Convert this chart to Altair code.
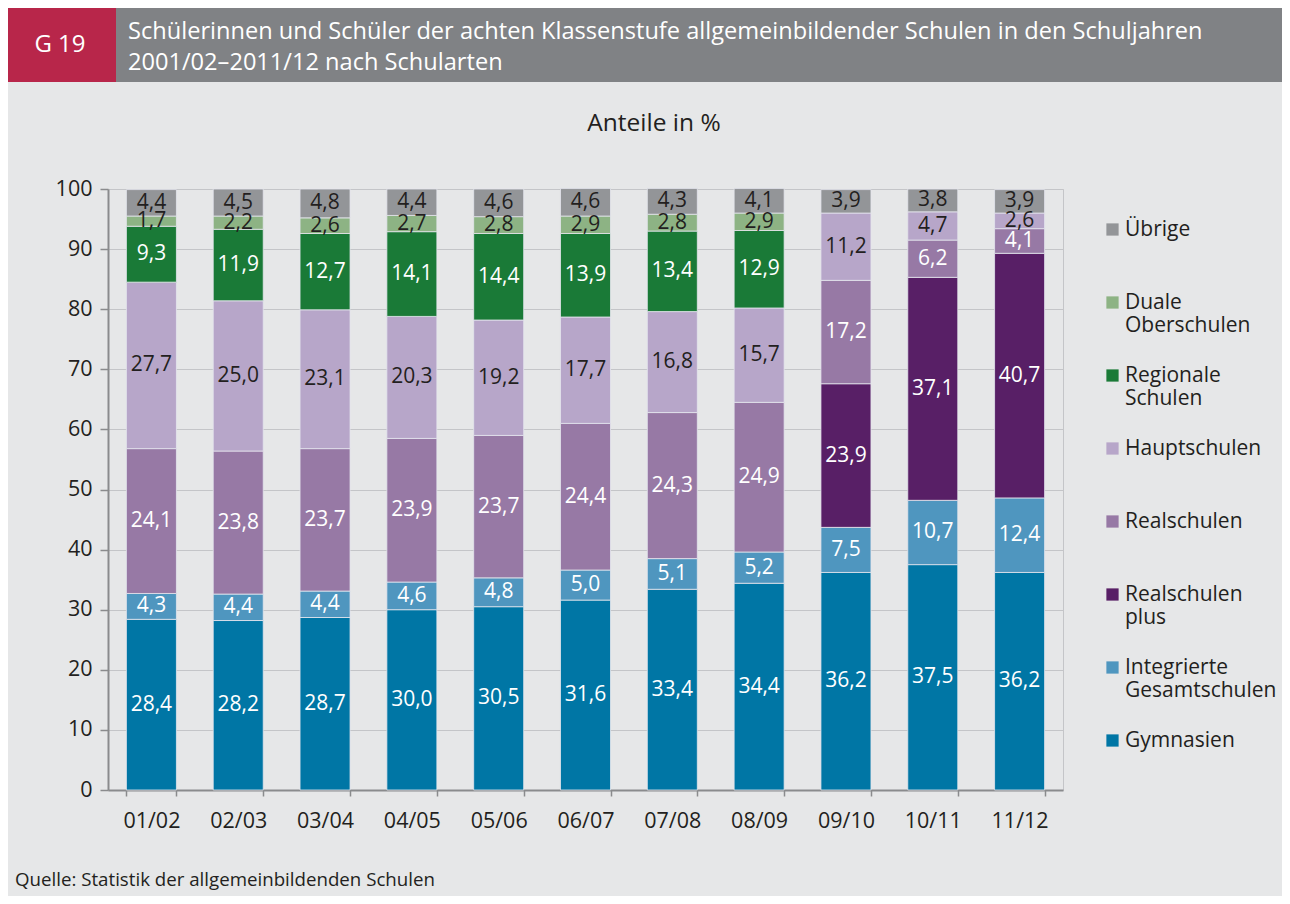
import altair as alt
import pandas as pd

FONT = "Open Sans"
DARK = "#231f20"

years = ["01/02", "02/03", "03/04", "04/05", "05/06", "06/07", "07/08", "08/09", "09/10", "10/11", "11/12"]

# stack order bottom -> top
gymnasien = [28.4, 28.2, 28.7, 30.0, 30.5, 31.6, 33.4, 34.4, 36.2, 37.5, 36.2]
integrierte = [4.3, 4.4, 4.4, 4.6, 4.8, 5.0, 5.1, 5.2, 7.5, 10.7, 12.4]
realschulen_plus = [0, 0, 0, 0, 0, 0, 0, 0, 23.9, 37.1, 40.7]
realschulen = [24.1, 23.8, 23.7, 23.9, 23.7, 24.4, 24.3, 24.9, 17.2, 6.2, 4.1]
hauptschulen = [27.7, 25.0, 23.1, 20.3, 19.2, 17.7, 16.8, 15.7, 11.2, 4.7, 2.6]
regionale = [9.3, 11.9, 12.7, 14.1, 14.4, 13.9, 13.4, 12.9, 0, 0, 0]
duale = [1.7, 2.2, 2.6, 2.7, 2.8, 2.9, 2.8, 2.9, 0, 0, 0]
uebrige = [4.4, 4.5, 4.8, 4.4, 4.6, 4.6, 4.3, 4.1, 3.9, 3.8, 3.9]

stack_names = ["Gymnasien", "Integrierte Gesamtschulen", "Realschulen plus", "Realschulen",
               "Hauptschulen", "Regionale Schulen", "Duale Oberschulen", "Übrige"]
stack_values = [gymnasien, integrierte, realschulen_plus, realschulen,
                hauptschulen, regionale, duale, uebrige]
label_colors = ["white", "white", "white", "white", DARK, "white", DARK, DARK]

legend_order = ["Übrige", "Duale Oberschulen", "Regionale Schulen", "Hauptschulen",
                "Realschulen", "Realschulen plus", "Integrierte Gesamtschulen", "Gymnasien"]
legend_colors = ["#939598", "#8db384", "#1a7a37", "#b7a6c9", "#9779a5", "#581f66", "#4f96bf", "#0076a5"]

rows = []
for i, (name, vals) in enumerate(zip(stack_names, stack_values)):
    for y, v in zip(years, vals):
        rows.append({"year": y, "series": name, "value": v, "order": i, "lc": label_colors[i]})
df = pd.DataFrame(rows)

header_title = ["Schülerinnen und Schüler der achten Klassenstufe allgemeinbildender Schulen in den Schuljahren",
                "2001/02–2011/12 nach Schularten"]
header_tag = "G 19"
chart_subtitle = "Anteile in %"
source_note = "Quelle: Statistik der allgemeinbildenden Schulen"

one = pd.DataFrame({"a": [0]})

header_bg = alt.Chart(one).mark_rect(color="#808285").encode(
    x=alt.value(-100), x2=alt.value(1174), y=alt.value(-181), y2=alt.value(-107))
header_red = alt.Chart(one).mark_rect(color="#b8264a").encode(
    x=alt.value(-100), x2=alt.value(8), y=alt.value(-181), y2=alt.value(-107))
header_tag_t = alt.Chart(one).mark_text(
    text=header_tag, font=FONT, fontSize=24, color="white", align="center", baseline="middle"
).encode(x=alt.value(-48), y=alt.value(-144))
header_title_t = alt.Chart(one).mark_text(
    text=header_title, font=FONT, fontSize=23.6, color="white", align="left", baseline="middle",
    lineHeight=31
).encode(x=alt.value(20), y=alt.value(-157))
sub_t = alt.Chart(one).mark_text(
    text=chart_subtitle, font=FONT, fontSize=24.5, color=DARK, align="center", baseline="middle"
).encode(x=alt.value(546), y=alt.value(-65))
src_t = alt.Chart(one).mark_text(
    text=source_note, font=FONT, fontSize=18.7, color=DARK, align="left", baseline="middle"
).encode(x=alt.value(-93), y=alt.value(691))

base = alt.Chart(df).transform_filter("datum.value > 0").transform_stack(
    stack="value", groupby=["year"], sort=[alt.SortField("order", order="ascending")], as_=["y0", "y1"]
).transform_calculate(
    mid="(datum.y0 + datum.y1) / 2",
    lab="replace(format(datum.value, '.1f'), '.', ',')"
)

xenc = alt.X("year:N", sort=years, title=None,
             scale=alt.Scale(paddingInner=0.424, paddingOuter=0.212),
             axis=alt.Axis(labelFont=FONT, labelFontSize=21.5, labelColor=DARK, labelAngle=0,
                           domainColor="#8a8b8d", domainWidth=2, tickColor="#8a8b8d", tickWidth=1.5,
                           tickSize=6, tickBand="extent", labelPadding=14, grid=False))

bars = base.mark_bar(stroke="#e4e6ee", strokeWidth=0.8).encode(
    x=xenc,
    y=alt.Y("y0:Q", title=None, scale=alt.Scale(domain=[0, 100], nice=False),
            axis=alt.Axis(values=list(range(0, 101, 10)), labelFont=FONT, labelFontSize=21.5,
                          labelColor=DARK, domainColor="#8a8b8d", domainWidth=2,
                          tickColor="#8a8b8d", tickWidth=1.5, tickSize=8, labelPadding=8,
                          gridColor="#c4c5c8", gridWidth=1)),
    y2="y1:Q",
    color=alt.Color("series:N", scale=alt.Scale(domain=legend_order, range=legend_colors),
                    legend=alt.Legend(title=None, orient="none", legendX=994, legendY=30,
                                      symbolType="square", symbolSize=150, symbolStrokeWidth=0,
                                      labelFont=FONT, labelFontSize=21, labelColor=DARK,
                                      labelExpr="split(datum.label, ' ')", gridAlign="all",
                                      rowPadding=28, labelOffset=2)),
)

labels = base.mark_text(font=FONT, fontSize=21, baseline="middle", align="center").encode(
    x=alt.X("year:N", sort=years),
    y=alt.Y("mid:Q"),
    text="lab:N",
    color=alt.Color("lc:N", scale=None),
)

chart = alt.layer(header_bg, header_red, header_tag_t, header_title_t, sub_t, src_t, bars, labels).properties(
    width=955, height=601,
    autosize=alt.AutoSizeParams(type="none"),
    padding={"left": 100, "top": 181, "right": 219, "bottom": 106},
    background="#e6e7e8",
).configure_view(stroke="#c4c5c8", strokeWidth=1)

chart.save("out.html", embed_options={"renderer": "svg", "actions": False})
